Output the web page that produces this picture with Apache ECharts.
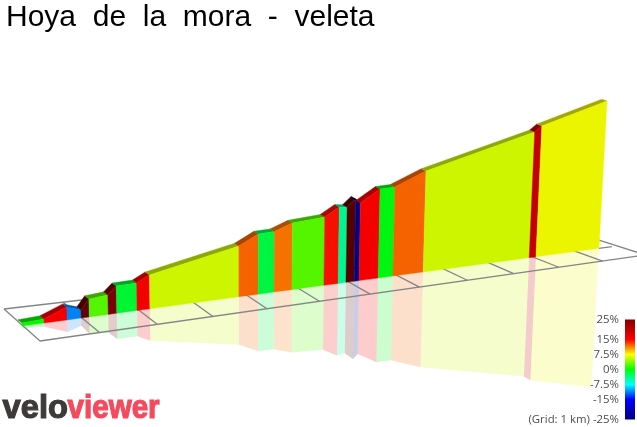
<!DOCTYPE html>
<html><head><meta charset="utf-8">
<style>html,body{margin:0;padding:0;background:#fff}#c{width:637px;height:427px}</style>
<script src="https://cdn.jsdelivr.net/npm/echarts@6/dist/echarts.min.js"></script>
</head><body><div id="c"></div>
<script>
// ---- data ----
const chartTitle = 'Hoya  de  la  mora  -  veleta';
const gridNote = '(Grid: 1 km)';
// route distance (km) at each change of gradient
const distanceKm = [0,0.37,0.76,1.00,1.14,1.47,1.62,1.98,2.21,3.86,4.23,4.54,4.89,5.53,5.82,5.98,6.15,6.25,6.65,6.96,7.61,10.00,10.16,11.68];
// elevation (m) at those points
const elevation  = [2495,2500,2545,2521,2572,2580,2620,2622,2656,2752,2805,2808,2844,2857,2904,2898,2939,2914,2981,2984,3057,3227,3259,3379];
// colour class of each section (gradient %)
const sectionGradient = [0.3,15,-11,27,2.6,25,-1.5,15,6.3,12,-2,11.5,2.6,14.5,-4.4,28,-24,15,-0.5,12,6.3,19,7.2];
const gridKm = [0,1,2,3,4,5,6,7,8,9,10,11,12];
const legendTicks = [25,15,7.5,0,-7.5,-15,-25];
const legendStops = [[-25,[0,0,128]],[-15,[0,0,255]],[-7.5,[0,255,255]],[0,[0,255,0]],[7.5,[255,255,0]],[15,[255,0,0]],[25,[128,0,0]]];

// ---- view ----
function gradColor(g){
  const s=legendStops;
  let i=0; while(i<s.length-2 && g>s[i+1][0]) i++;
  const t=(g-s[i][0])/(s[i+1][0]-s[i][0]);
  return s[i][1].map((v,k)=>Math.max(0,Math.min(255,v+(s[i+1][1][k]-v)*t)));
}
const css=(c,a,m)=>`rgba(${c.map(v=>Math.round(v*(m==null?1:m))).join(',')},${a==null?1:a})`;
const KM_PX=60.7, LEFT=22, GROUND=326, ELE_MIN=2480, ELE_MAX=3400, M_PX=0.2;
const persp=0.01887, slope=-1.97, vanishX=240, vanishY=6590, mirror=0.945;
// flat axis pixel -> picture pixel (camera of the 3-D scene)
function project(p){
  const u=(p[0]-LEFT)/KM_PX, w=1+persp*u;
  const bx=p[0]/w, by=(GROUND+slope*u)/w, h=(GROUND-p[1])/w;
  return {u,bx,by,h};
}
const top3=q=>[q.bx+(q.bx-vanishX)/vanishY*q.h, q.by-q.h];
const mir3=q=>[q.bx-(q.bx-vanishX)/vanishY*q.h*mirror, q.by+q.h*mirror];
const bas3=q=>[q.bx,q.by];
const rail=(a0,a,c,m0,m,u)=>[(a0+a*u)/(1+c*u),(m0+m*u)/(1+c*u)];
const backRail=u=>rail(4,60.1,0.01757,309,-1.53,u);
const frontRail=u=>rail(40,61.2,0.01667,341,-2.92,u);
const lineStyle={stroke:'#858585',lineWidth:1.3,fill:null};

const sections=sectionGradient.map((g,i)=>[distanceKm[i],elevation[i],distanceKm[i+1],elevation[i+1],g]);

function quad(pts,fill,stroke){
  return {type:'polygon',shape:{points:pts},style:{fill,stroke:stroke||fill,lineWidth:stroke===null?0:0.4}};
}
function reflection(params,api){
  const a=project(api.coord([api.value(0),api.value(1)])), b=project(api.coord([api.value(2),api.value(3)]));
  const c=gradColor(api.value(4));
  return {type:'polygon',shape:{points:[bas3(a),mir3(a),mir3(b),bas3(b)]},style:{fill:css(c,0.2,0.97)}};
}
function wall(params,api){
  const a=project(api.coord([api.value(0),api.value(1)])), b=project(api.coord([api.value(2),api.value(3)]));
  const c=gradColor(api.value(4));
  const off=u=>[-4-0.1*u,-3.3+0.13*u];
  const ta=top3(a), tb=top3(b), oa=off(a.u), ob=off(b.u);
  const bk=(t,o)=>[t[0]+o[0],t[1]+o[1]];
  return {type:'group',children:[
    quad([ta,tb,bk(tb,ob),bk(ta,oa)],css(c,1,0.66)),
    quad([bas3(a),ta,tb,bas3(b)],css(c,1,0.96))
  ]};
}
function floor(params,api){
  const km=api.value(0);
  const u=project(api.coord([km,ELE_MIN])).u;
  const kids=[{type:'polyline',shape:{points:[backRail(u),frontRail(u)]},style:lineStyle}];
  if(params.dataIndex===0){
    const uEnd=project(api.coord([gridKm[gridKm.length-1],ELE_MIN])).u;
    const uWall=project(api.coord([distanceKm[distanceKm.length-1],ELE_MIN]));
    const cEnd=project(api.coord([gridKm[gridKm.length-1],ELE_MIN]));
    kids.push({type:'polyline',shape:{points:[backRail(u),backRail(uEnd)]},style:lineStyle});
    kids.push({type:'polyline',shape:{points:[frontRail(u),frontRail(uEnd)]},style:lineStyle});
    kids.push({type:'polyline',shape:{points:[bas3(uWall),bas3(cEnd)]},style:lineStyle});
  }
  return {type:'group',children:kids};
}
function legendBar(params,api){
  const p0=api.coord([0,legendTicks[legendTicks.length-1]]), p1=api.coord([1,legendTicks[0]]);
  const lo=legendStops[0][0], hi=legendStops[legendStops.length-1][0];
  return {type:'rect',shape:{x:p0[0],y:p1[1],width:p1[0]-p0[0],height:p0[1]-p1[1]},
    style:{fill:new echarts.graphic.LinearGradient(0,1,0,0,legendStops.map(s=>({offset:(s[0]-lo)/(hi-lo),color:css(s[1])})))}};
}

const chart=echarts.init(document.getElementById('c'),null,{renderer:'canvas'});
chart.setOption({
  animation:false,
  backgroundColor:'#fff',
  title:{text:chartTitle,left:6,top:0,padding:0,textStyle:{fontFamily:'Liberation Sans',fontSize:30,fontWeight:'normal',color:'#000',lineHeight:36}},
  grid:[
    {left:LEFT,width:KM_PX*12,top:GROUND-(ELE_MAX-ELE_MIN)*M_PX,height:(ELE_MAX-ELE_MIN)*M_PX,containLabel:false,outerBoundsMode:'none'},
    {left:625,width:10,top:319.5,height:100,containLabel:false,outerBoundsMode:'none'}
  ],
  xAxis:[
    {type:'value',gridIndex:0,min:0,max:12,show:false},
    {type:'value',gridIndex:1,min:0,max:1,show:false}
  ],
  yAxis:[
    {type:'value',gridIndex:0,min:ELE_MIN,max:ELE_MAX,show:false},
    {type:'value',gridIndex:1,min:-25,max:25,position:'left',
     axisLine:{show:false},axisTick:{show:false},splitLine:{show:false},
     axisLabel:{show:true,margin:6,fontFamily:'Open Sans',fontSize:11.4,color:'#4d4d4d',hideOverlap:false,showMinLabel:true,showMaxLabel:true,
       customValues:legendTicks,
       formatter:v=>(v===legendTicks[legendTicks.length-1]?gridNote+' ':'')+v+'%'}}
  ],
  series:[
    {type:'custom',name:'reflection',xAxisIndex:0,yAxisIndex:0,clip:false,silent:true,z:1,renderItem:reflection,data:sections,encode:{x:[0,2],y:[1,3]}},
    {type:'custom',name:'floor',xAxisIndex:0,yAxisIndex:0,clip:false,silent:true,z:2,renderItem:floor,data:gridKm.map(k=>[k]),encode:{x:0}},
    {type:'custom',name:'wall',xAxisIndex:0,yAxisIndex:0,clip:false,silent:true,z:3,renderItem:wall,data:sections,encode:{x:[0,2],y:[1,3]}},
    {type:'custom',name:'legend',xAxisIndex:1,yAxisIndex:1,clip:false,silent:true,z:3,renderItem:legendBar,data:[[0]],encode:{x:0}}
  ],
  graphic:[
    {type:'text',left:2,top:391,scaleX:0.96,style:{text:'velo',font:'bold 34px "Liberation Sans"',fill:'#3f3a3a',stroke:'#3f3a3a',lineWidth:1.2}},
    {type:'text',left:67,top:391,scaleX:0.87,style:{text:'viewer',font:'bold 34px "Liberation Sans"',fill:'#f44a5e',stroke:'#f44a5e',lineWidth:1.2}}
  ]
});
</script></body></html>
